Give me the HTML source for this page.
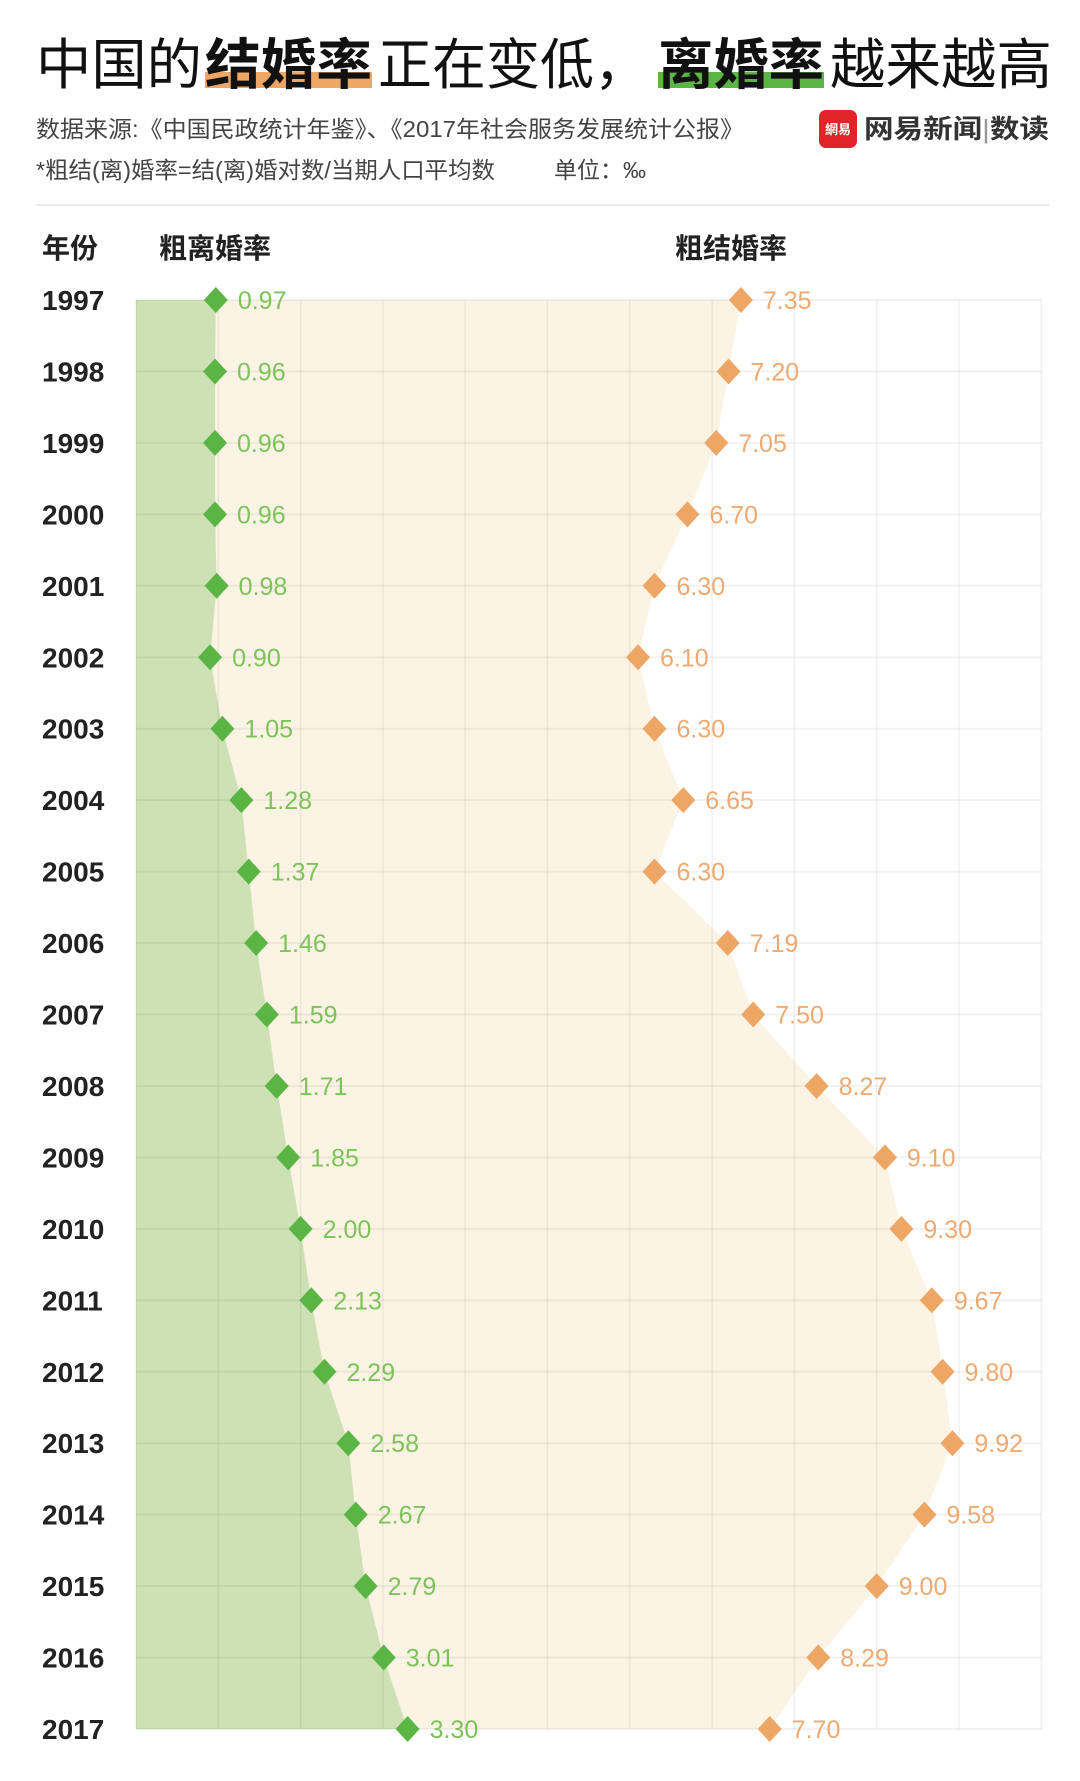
<!DOCTYPE html>
<html><head><meta charset="utf-8">
<style>
body{margin:0;background:#fff;width:1080px;height:1776px;overflow:hidden;font-family:"Liberation Sans","Noto Sans CJK SC",sans-serif;}
</style></head>
<body>
<svg id="chart" width="1080" height="1776" xmlns="http://www.w3.org/2000/svg" style="font-family:'Liberation Sans','Noto Sans CJK SC',sans-serif">
  <rect x="205" y="72" width="167" height="16" fill="#eea664"/>
  <rect x="658" y="72" width="166" height="16" fill="#5bb544"/>
  <g font-size="55" fill="#111">
    <text x="36" y="84" textLength="166" lengthAdjust="spacingAndGlyphs">中国的</text>
    <text x="205" y="84" font-weight="bold" textLength="167" lengthAdjust="spacingAndGlyphs">结婚率</text>
    <text x="378" y="84" textLength="270" lengthAdjust="spacingAndGlyphs">正在变低，</text>
    <text x="658" y="84" font-weight="bold" textLength="166" lengthAdjust="spacingAndGlyphs">离婚率</text>
    <text x="830" y="84" textLength="222" lengthAdjust="spacingAndGlyphs">越来越高</text>
  </g>
  <text x="36" y="137" font-size="23" fill="#444" textLength="708" lengthAdjust="spacingAndGlyphs">数据来源:《中国民政统计年鉴》、《2017年社会服务发展统计公报》</text>
  <text x="36" y="178" font-size="23" fill="#444" textLength="459" lengthAdjust="spacingAndGlyphs">*粗结(离)婚率=结(离)婚对数/当期人口平均数</text>
  <text x="554" y="178" font-size="23" fill="#444">单位：‰</text>
  <rect x="819" y="110" width="38" height="38" rx="7" fill="#e0242a"/>
  <text x="838" y="134" font-size="13" fill="#fff" text-anchor="middle" font-weight="bold">網易</text>
  <text x="864" y="138" font-size="26" font-weight="bold" fill="#333" textLength="185" lengthAdjust="spacingAndGlyphs">网易新闻<tspan fill="#999" font-weight="normal">|</tspan>数读</text>
  <line x1="36" y1="205" x2="1049" y2="205" stroke="#eaeaea" stroke-width="2"/>
  <text x="42" y="258" font-size="28" font-weight="bold" fill="#222">年份</text>
  <text x="159" y="258" font-size="28" font-weight="bold" fill="#222">粗离婚率</text>
  <text x="675" y="258" font-size="28" font-weight="bold" fill="#222">粗结婚率</text>
  <g id="plot"></g>
</svg>
<script>
const years=[1997,1998,1999,2000,2001,2002,2003,2004,2005,2006,2007,2008,2009,2010,2011,2012,2013,2014,2015,2016,2017];
const divorce=[0.97,0.96,0.96,0.96,0.98,0.90,1.05,1.28,1.37,1.46,1.59,1.71,1.85,2.00,2.13,2.29,2.58,2.67,2.79,3.01,3.30];
const marriage=[7.35,7.20,7.05,6.70,6.30,6.10,6.30,6.65,6.30,7.19,7.50,8.27,9.10,9.30,9.67,9.80,9.92,9.58,9.00,8.29,7.70];
const divorceLabels=divorce.map(v=>v.toFixed(2));
const marriageLabels=marriage.map(v=>v.toFixed(2));

const NS='http://www.w3.org/2000/svg';
const g=document.getElementById('plot');
const x0=136,unit=82.3,maxV=11,yTop=300,step=71.45;
const xs=v=>x0+v*unit;
const ys=i=>yTop+i*step;
function mk(tag,attrs){const e=document.createElementNS(NS,tag);for(const k in attrs)e.setAttribute(k,attrs[k]);g.appendChild(e);return e;}
const n=years.length,yB=ys(n-1);
let cream=`M${xs(divorce[0])},${ys(0)}`;
marriage.forEach((v,i)=>{cream+=` L${xs(v)},${ys(i)}`;});
for(let i=n-1;i>=0;i--)cream+=` L${xs(divorce[i])},${ys(i)}`;
const c=mk('path',{d:cream+'Z',fill:'#fbf3e4'});


let green=`M${x0},${ys(0)}`;
divorce.forEach((v,i)=>{green+=` L${xs(v)},${ys(i)}`;});
green+=` L${x0},${yB}Z`;
const gr=mk('path',{d:green,fill:'#cde1b4'});


for(let k=0;k<=maxV;k++){
  const l=mk('line',{x1:xs(k),y1:yTop,x2:xs(k),y2:yB,stroke:'rgba(0,0,0,0.06)','stroke-width':1.5});
  
  
}
years.forEach((yr,i)=>{
  const y=ys(i);
  const l=mk('line',{x1:x0,y1:y,x2:xs(maxV),y2:y,stroke:'rgba(0,0,0,0.05)','stroke-width':2});
  
  
  const t=mk('text',{x:42,y:y+10,'font-size':28,'font-weight':'bold',fill:'#222'});
  t.textContent=yr;
  
  
  [[divorce[i],divorceLabels[i],'#5bb544','#7cc35a','divorce'],[marriage[i],marriageLabels[i],'#eea664','#eeaa70','marriage']].forEach(([v,lab,col,tc,nm])=>{
    const x=xs(v);
    const d=mk('path',{d:`M${x},${y-13} L${x+12},${y} L${x},${y+13} L${x-12},${y}Z`,fill:col});
    
    
    const tt=mk('text',{x:x+22,y:y+9,'font-size':25,fill:tc});
    tt.textContent=lab;
    
    
  });
});
</script>
</body></html>
